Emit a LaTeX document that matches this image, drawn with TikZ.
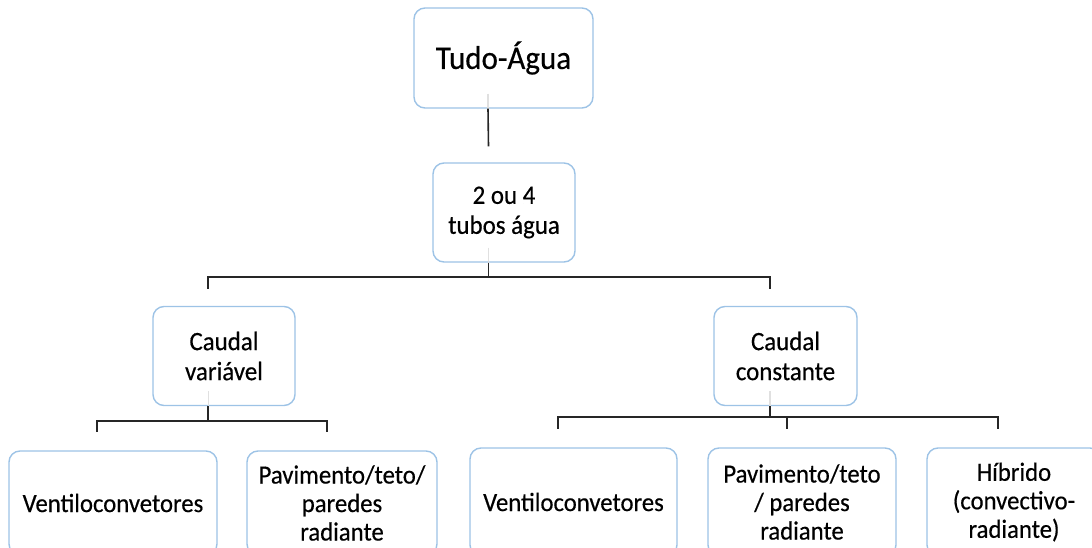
\documentclass[tikz,border=0pt]{standalone}
\usepackage{fontspec}
\setmainfont{Carlito}[FakeStretch=0.94,FakeBold=0.4]
\usetikzlibrary{positioning}
\definecolor{boxblue}{HTML}{9DC3E6}
\definecolor{linegray}{HTML}{262626}
\begin{document}
\begin{tikzpicture}[x=1pt,y=-1pt,
    caixa/.style={draw=boxblue,line width=1.4pt,rounded corners=11pt,fill=white,
      align=center,inner sep=0pt,minimum height=99},
    grande/.style={font=\fontsize{33}{40}\selectfont},
    medio/.style={font=\fontsize{26.5}{30}\selectfont},
    pequeno/.style={font=\fontsize{26.3}{28.5}\selectfont},
    liga/.style={line width=1.6pt,linegray},
    toco/.style={line width=1.5pt,black!12}]
  \useasboundingbox (0,0) rectangle (1092,548);
  % nivel 0 e 1
  \node[caixa,grande,minimum width=179,minimum height=100] (tudo) at (503.5,58) {Tudo-Água};
  \node[caixa,medio,minimum width=142] (tubos) at (504,212.5) {2 ou 4\\tubos água};
  % nivel 2
  \node[caixa,medio,minimum width=142] (variavel) at (224,356) {Caudal\\variável};
  \node[caixa,medio,minimum width=143] (constante) at (785.5,356) {Caudal\\constante};
  % nivel 3
  \node[caixa,pequeno,minimum width=208,minimum height=104] (ventA) at (113,503) {Ventiloconvetores};
  \node[caixa,pequeno,minimum width=190,minimum height=104] (paredeA) at (342,503) {Pavimento/teto/\\paredes\\radiante};
  \node[caixa,pequeno,minimum width=207,minimum height=108] (ventB) at (573.5,502) {Ventiloconvetores};
  \node[caixa,pequeno,minimum width=188,minimum height=108] (paredeB) at (802,502) {Pavimento/teto\\/ paredes\\radiante};
  \node[caixa,pequeno,minimum width=174,minimum height=108] (hibrido) at (1014,502) {Híbrido\\(convectivo-\\radiante)};
  % tocos dentro das caixas
  \foreach \pai in {tudo,tubos,variavel,constante}
    \draw[toco] ([xshift=-15.5pt,yshift=15pt]\pai.south) -- ([xshift=-15.5pt]\pai.south);
  % ligacoes
  \draw[liga] ([xshift=-15.5pt]tudo.south) -- ([xshift=-15.5pt,yshift=16pt]tubos.north);
  \draw[liga] ([xshift=-15.5pt]tubos.south) -- ++(0,14) -| ([xshift=-16pt,yshift=17pt]variavel.north);
  \draw[liga] ([xshift=-15.5pt]tubos.south) -- ++(0,14) -| ([xshift=-15.5pt,yshift=17pt]constante.north);
  \draw[liga] ([xshift=-16pt]variavel.south) -- ++(0,15) -| ([xshift=-16pt,yshift=18pt]ventA.north);
  \draw[liga] ([xshift=-16pt]variavel.south) -- ++(0,15) -| ([xshift=-15pt,yshift=18pt]paredeA.north);
  \draw[liga] ([xshift=-15.5pt]constante.south) -- ++(0,11) -| ([xshift=-15.5pt,yshift=18pt]ventB.north);
  \draw[liga] ([xshift=-15.5pt]constante.south) -- ++(0,11) -| ([xshift=-15pt,yshift=18pt]paredeB.north);
  \draw[liga] ([xshift=-15.5pt]constante.south) -- ++(0,11) -| ([xshift=-16pt,yshift=18pt]hibrido.north);
\end{tikzpicture}
\end{document}
